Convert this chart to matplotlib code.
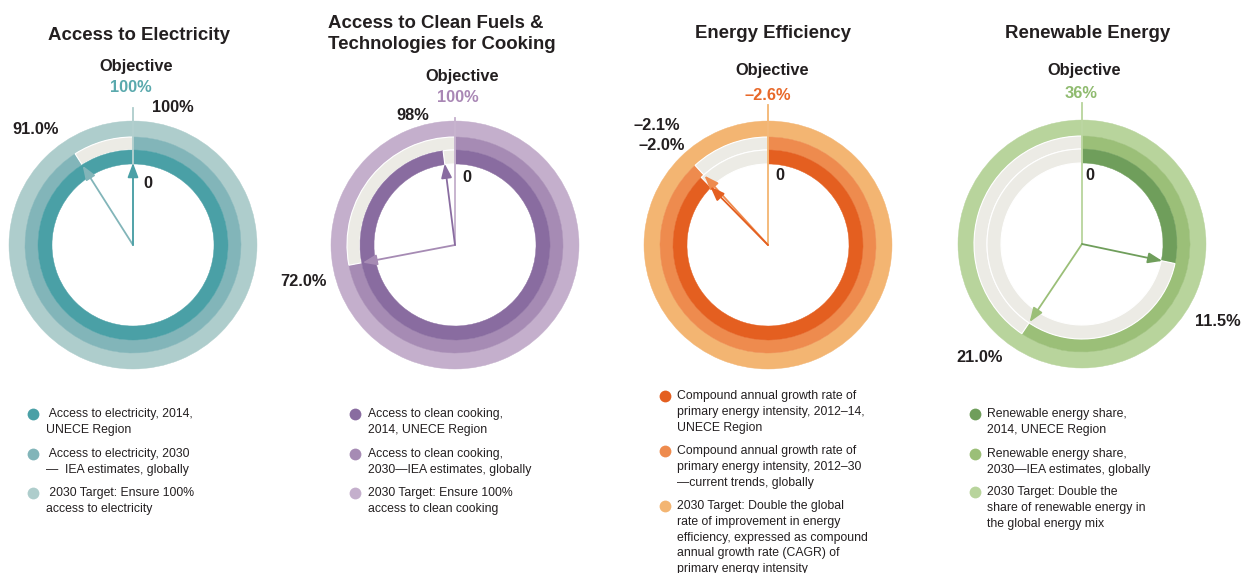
import matplotlib
matplotlib.use("Agg")
import matplotlib.pyplot as plt
from matplotlib.patches import FancyArrowPatch
from matplotlib import font_manager as fm
import math

# ---------------- data ----------------
titles = ["Access to Electricity",
          "Access to Clean Fuels &\nTechnologies for Cooking",
          "Energy Efficiency",
          "Renewable Energy"]
objective_labels = ["100%", "100%", "\u20132.6%", "36%"]
# share of the gauge filled, inner ring = current, middle ring = 2030
inner_share = [1.00, 0.98, 0.876, 0.283]
middle_share = [0.91, 0.72, 0.882, 0.594]
target_share = [1.0, 1.0, 1.0, 1.0]
value_labels_a = ["100%", "98%", "\u20132.1%", "11.5%"]
value_labels_b = ["91.0%", "72.0%", "\u20132.0%", "21.0%"]

legend_items = [
    [[" Access to electricity, 2014,", "UNECE Region"],
     [" Access to electricity, 2030", "\u2014  IEA estimates, globally"],
     [" 2030 Target: Ensure 100%", "access to electricity"]],
    [["Access to clean cooking,", "2014, UNECE Region"],
     ["Access to clean cooking,", "2030\u2014IEA estimates, globally"],
     ["2030 Target: Ensure 100%", "access to clean cooking"]],
    [["Compound annual growth rate of", "primary energy intensity, 2012\u201314,", "UNECE Region"],
     ["Compound annual growth rate of", "primary energy intensity, 2012\u201330", "\u2014current trends, globally"],
     ["2030 Target: Double the global", "rate of improvement in energy",
      "efficiency, expressed as compound", "annual growth rate (CAGR) of",
      "primary energy intensity"]],
    [["Renewable energy share,", "2014, UNECE Region"],
     ["Renewable energy share,", "2030\u2014IEA estimates, globally"],
     ["2030 Target: Double the", "share of renewable energy in", "the global energy mix"]],
]

# ---------------- styles ----------------
ring_colors = [
    ["#4aa0a6", "#82b5b9", "#aecdcc"],
    ["#896ca0", "#a68bb4", "#c4afcc"],
    ["#e45f20", "#ee8b4e", "#f3b572"],
    ["#6f9e5b", "#9bbf78", "#b8d49c"],
]
objective_colors = ["#5aa9ad", "#a987b5", "#e8692a", "#8fbb6f"]
GRAY = "#ecebe5"
DARK = "#231f20"

W, H = 1244, 573
centers = [(133, 245), (455, 245), (768, 245), (1082, 244)]
R_OUT, R_MID, R_IN, R_HOLE = 124, 108, 95, 81
line_top = [108, 118, 105, 103]

avail = {f.name for f in fm.fontManager.ttflist}
BOLD = "Liberation Sans" if "Liberation Sans" in avail else "DejaVu Sans"
if "Liberation Sans Narrow" in avail:
    LEG_FONT, LEG_SIZE = "Liberation Sans Narrow", 10.3
else:
    LEG_FONT, LEG_SIZE = BOLD, 8.8

fig = plt.figure(figsize=(W / 100, H / 100), dpi=100)
ax = fig.add_axes([0, 0, 1, 1])


def Y(y):
    return H - y


for i in range(4):
    cx, cy = centers[i][0], Y(centers[i][1])
    cols = ring_colors[i]
    rings = [(target_share[i], R_OUT, R_OUT - R_MID, cols[2]),
             (middle_share[i], R_MID, R_MID - R_IN, cols[1]),
             (inner_share[i], R_IN, R_IN - R_HOLE, cols[0])]
    for share, r, w, c in rings:
        wedges, _ = ax.pie([share, max(1 - share, 0)], radius=r, center=(cx, cy),
                           startangle=90, counterclock=False, colors=[c, GRAY],
                           wedgeprops=dict(width=w, edgecolor="white", linewidth=0.8))
        wedges[0].set_edgecolor(c)
        wedges[0].set_linewidth(0.3)
    # vertical objective line
    ax.plot([cx, cx], [cy, Y(line_top[i])], color=cols[2], lw=1.3, zorder=5)
    # arrows
    for share, r, c in [(middle_share[i], R_IN - 1, cols[1]), (inner_share[i], R_HOLE + 1, cols[0])]:
        th = math.radians(90 - 360 * share)
        ex, ey = cx + r * math.cos(th), cy + r * math.sin(th)
        arr = FancyArrowPatch((cx, cy), (ex, ey),
                              arrowstyle="-|>,head_length=0.85,head_width=0.32",
                              mutation_scale=10, color=c, lw=1.3,
                              shrinkA=0, shrinkB=0, zorder=6)
        ax.add_patch(arr)

# ---------------- texts ----------------
title_pos = [(139, 36, "center"), (328, 34, "left"), (773, 33, "center"), (1088, 33, "center")]
for i, (x, y, ha) in enumerate(title_pos):
    ax.text(x, Y(y), titles[i], ha=ha, va="center", fontsize=13.4, fontweight="bold",
            family=BOLD, color=DARK, linespacing=1.38, multialignment="left")

obj_pos = [(136, 67, 131, 87), (462, 77, 458, 97), (772, 71, 768, 96), (1084, 70, 1081, 93)]
for i, (x1, y1, x2, y2) in enumerate(obj_pos):
    ax.text(x1, Y(y1), "Objective", ha="center", va="center", fontsize=11.8,
            fontweight="bold", family=BOLD, color=DARK)
    ax.text(x2, Y(y2), objective_labels[i], ha="center", va="center", fontsize=11.8,
            fontweight="bold", family=BOLD, color=objective_colors[i])

label_a_pos = [(173, 108), (413, 116), (657, 126), (1218, 321)]
label_b_pos = [(36, 130), (303, 281), (662, 146), (980, 358)]
zero_pos = [(148, 184), (467, 177), (780, 175), (1090, 175)]
for i in range(4):
    ax.text(label_a_pos[i][0], Y(label_a_pos[i][1]), value_labels_a[i], ha="center", va="center",
            fontsize=11.8, fontweight="bold", family=BOLD, color=DARK)
    ax.text(label_b_pos[i][0], Y(label_b_pos[i][1]), value_labels_b[i], ha="center", va="center",
            fontsize=11.8, fontweight="bold", family=BOLD, color=DARK)
    ax.text(zero_pos[i][0], Y(zero_pos[i][1]), "0", ha="center", va="center",
            fontsize=11.8, fontweight="bold", family=BOLD, color=DARK)

# ---------------- legends ----------------
leg_x = [(33, 46), (355, 368), (665, 677), (975, 987)]
leg_y = [[414, 454, 493], [414, 454, 493], [396, 451, 506], [414, 454, 492]]
LINE_H = 15.8
for i in range(4):
    mx, tx = leg_x[i]
    for k, lines in enumerate(legend_items[i]):
        y0 = leg_y[i][k]
        ax.plot([mx], [Y(y0)], "o", ms=8.5, color=ring_colors[i][k], mec="none")
        for j, ln in enumerate(lines):
            ax.text(tx, Y(y0 + j * LINE_H), ln, ha="left", va="center",
                    fontsize=LEG_SIZE, family=LEG_FONT, color=DARK)

ax.set_xlim(0, W)
ax.set_ylim(0, H)
ax.set_aspect("equal")
ax.axis("off")
fig.savefig("out.png", dpi=100, facecolor="white")
